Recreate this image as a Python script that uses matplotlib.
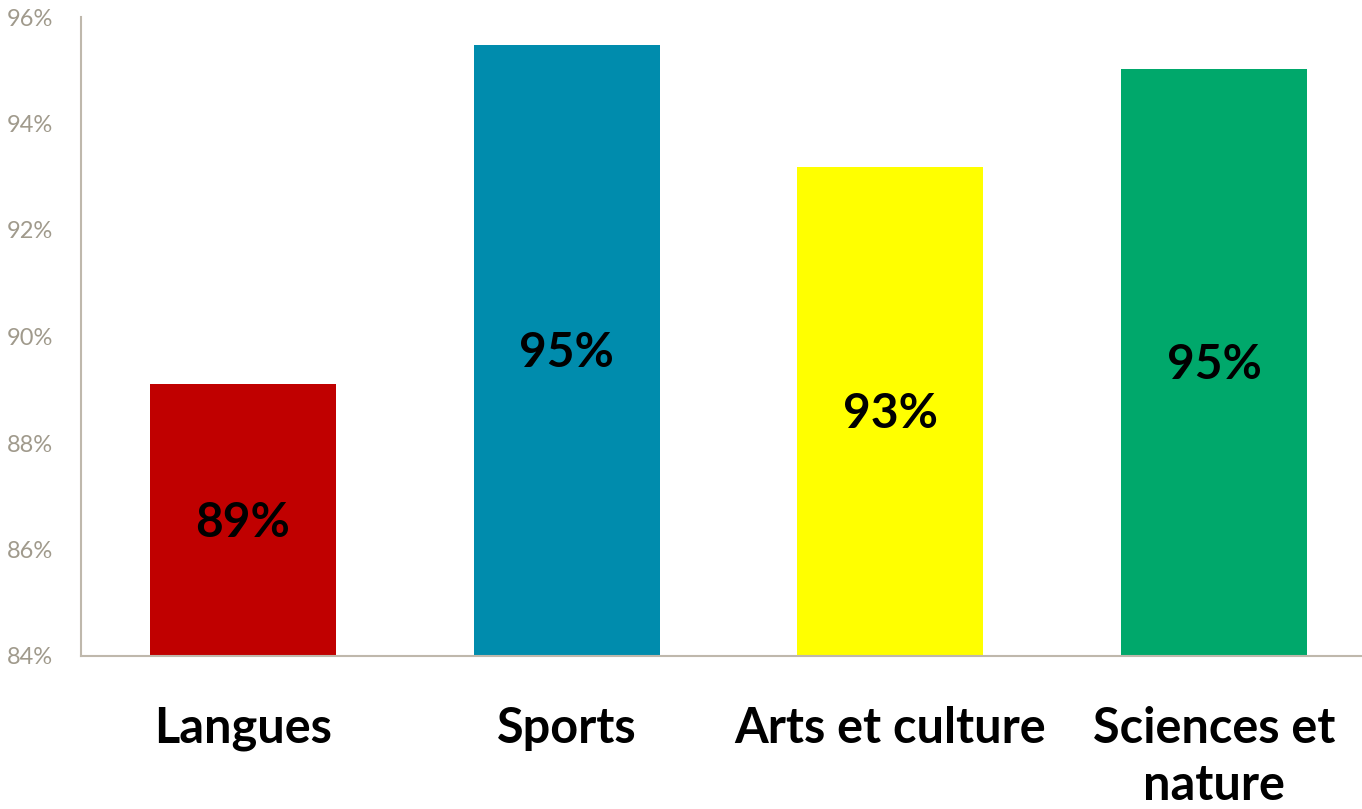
import matplotlib
matplotlib.use("Agg")
import matplotlib.pyplot as plt
from matplotlib.ticker import FuncFormatter

categories = ["Langues", "Sports", "Arts et culture", "Sciences et\nnature"]
values = [89.1, 95.47, 93.19, 95.02]
labels = ["89%", "95%", "93%", "95%"]
colors = ["#C00000", "#008CAD", "#FFFF00", "#00A86B"]

plt.rcParams["font.family"] = ["Lato", "DejaVu Sans"]

fig = plt.figure(figsize=(13.62, 8.09), dpi=100)
ax = fig.add_axes([81 / 1362, 153 / 809, 1295 / 1362, 639 / 809])

x = range(len(categories))
ax.bar(x, [v - 84 for v in values], bottom=84, width=0.575, color=colors)

for i, v in enumerate(values):
    ax.text(i, (84 + v) / 2 - 0.05, labels[i], ha="center", va="center",
            fontsize=34.5, fontweight="bold", color="black")

ax.set_xlim(-0.5, 3.5)
ax.set_ylim(84, 96)
ax.set_yticks(range(84, 97, 2))
ax.yaxis.set_major_formatter(FuncFormatter(lambda v, p: f"{v:.0f}%"))
ax.set_xticks(list(x))
ax.set_xticklabels(categories, fontsize=35, fontweight="bold", linespacing=1.32)

for s in ["top", "right"]:
    ax.spines[s].set_visible(False)
for s in ["left", "bottom"]:
    ax.spines[s].set_color("#BFB8AC")
    ax.spines[s].set_linewidth(1.5)

ax.tick_params(axis="y", length=0, labelsize=17, labelcolor="#A09A8C", pad=20)
ax.tick_params(axis="x", length=0, pad=36)

fig.savefig("out.png", dpi=100)
